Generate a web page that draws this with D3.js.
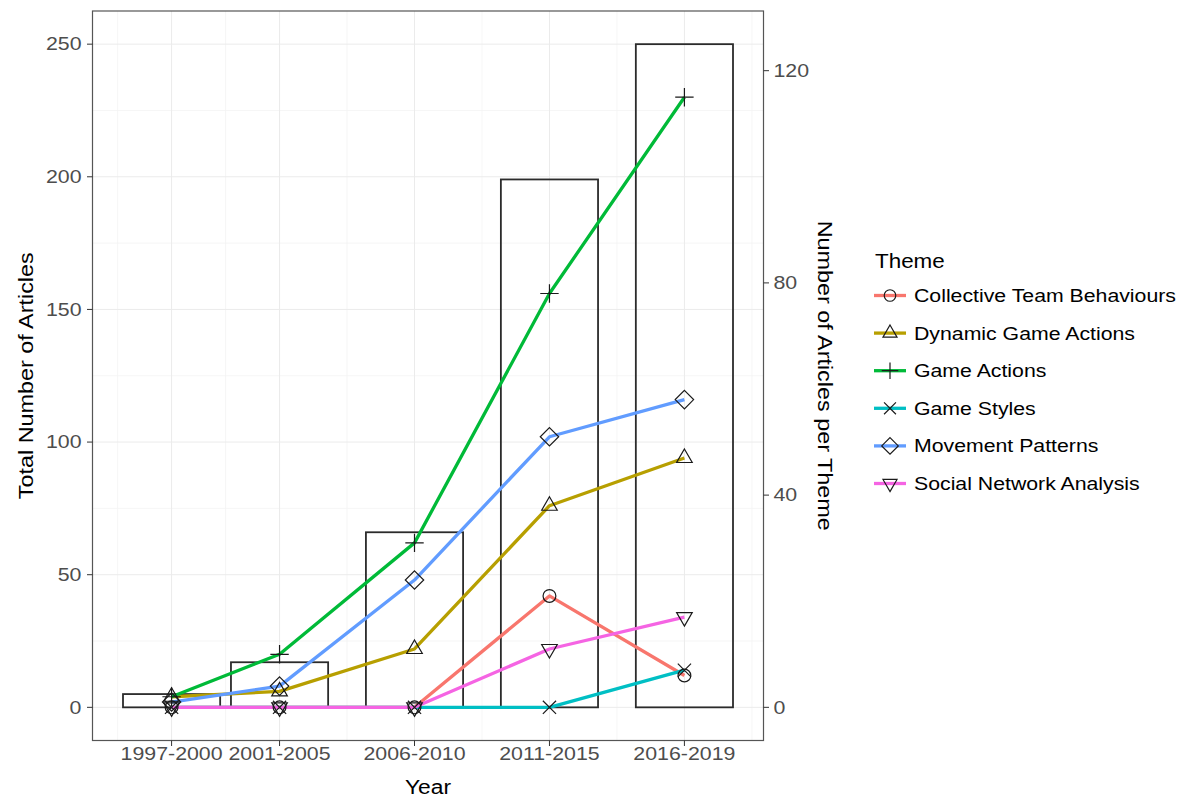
<!DOCTYPE html>
<html>
<head>
<meta charset="utf-8">
<script src="https://cdn.jsdelivr.net/npm/d3@7"></script>
<style>
  html, body { margin: 0; padding: 0; background: #fff; }
  svg { display: block; font-family: "Liberation Sans", Arial, sans-serif; }
</style>
</head>
<body>
<svg id="chart" width="1190" height="800"></svg>
<script>
// Publication periods and their first year (x is placed on a year scale)
const periods = ["1997-2000", "2001-2005", "2006-2010", "2011-2015", "2016-2019"];
const startYears = [1997, 2001, 2006, 2011, 2016];

// Total number of articles per period (left axis, bars)
const totalArticles = [5, 17, 66, 199, 250];

// Articles per theme (right axis)
const themeNames = [
  "Collective Team Behaviours",
  "Dynamic Game Actions",
  "Game Actions",
  "Game Styles",
  "Movement Patterns",
  "Social Network Analysis"
];
const collectiveTeamBehaviours = [0, 0, 0, 21, 6];
const dynamicGameActions = [2, 3, 11, 38, 47];
const gameActions = [2, 10, 31, 78, 115];
const gameStyles = [0, 0, 0, 0, 7];
const movementPatterns = [1, 4, 24, 51, 58];
const socialNetworkAnalysis = [0, 0, 0, 11, 17];

const themeColors = ["#F8766D", "#B79F00", "#00BA38", "#00BFC4", "#619CFF", "#F564E3"];
const themeShapes = ["circle", "triangle", "plus", "cross", "diamond", "triangleDown"];

const leftTicks = [0, 50, 100, 150, 200, 250];
const rightTicks = [0, 40, 80, 120];

const series = [
  collectiveTeamBehaviours, dynamicGameActions, gameActions,
  gameStyles, movementPatterns, socialNetworkAnalysis
].map((vals, i) => ({
  name: themeNames[i],
  color: themeColors[i],
  shape: themeShapes[i],
  values: vals.map((v, j) => ({ year: startYears[j], value: v }))
}));

// ---- layout ----
const svg = d3.select("#chart");
const panel = { left: 92.5, right: 763.5, top: 11, bottom: 740.5 };

const barWidthYears = 0.9 * d3.min(d3.pairs(startYears), p => p[1] - p[0]);
const xMin = d3.min(startYears) - barWidthYears / 2;
const xMax = d3.max(startYears) + barWidthYears / 2;
const xPad = (xMax - xMin) * 0.05;
const x = d3.scaleLinear().domain([xMin - xPad, xMax + xPad]).range([panel.left, panel.right]);

const yMaxData = d3.max(totalArticles);
const y = d3.scaleLinear().domain([-yMaxData * 0.05, yMaxData * 1.05]).range([panel.bottom, panel.top]);
// secondary axis: articles per theme = total / 2
const yRight = d3.scaleLinear().domain(y.domain().map(v => v / 2)).range([panel.bottom, panel.top]);

// text helper: horizontally widened sans text
function addText(parent, tx, ty, str, o) {
  const g = parent.append("g")
    .attr("transform", `translate(${tx},${ty}) rotate(${o.rotate || 0}) scale(${o.sx || 1.18},1)`);
  g.append("text")
    .attr("x", 0).attr("y", 0)
    .attr("text-anchor", o.anchor || "start")
    .attr("font-size", o.size)
    .attr("fill", o.color || "#000")
    .text(str);
  return g;
}

// marker shapes, open strokes
function shapePath(shape, s) {
  const p = d3.path();
  if (shape === "circle") {
    const r = 6.4 * s;
    p.moveTo(r, 0); p.arc(0, 0, r, 0, 2 * Math.PI);
  } else if (shape === "triangle" || shape === "triangleDown") {
    const xc = 7.8 * s, r = xc / 1.3468 * 1.5551, yc = r / 2;
    const f = shape === "triangle" ? 1 : -1;
    p.moveTo(0, -r * f); p.lineTo(xc, yc * f); p.lineTo(-xc, yc * f); p.closePath();
  } else if (shape === "plus") {
    const h = 9.2 * s;
    p.moveTo(-h, 0); p.lineTo(h, 0); p.moveTo(0, -h); p.lineTo(0, h);
  } else if (shape === "cross") {
    const h = 6.6 * s;
    p.moveTo(-h, -h); p.lineTo(h, h); p.moveTo(-h, h); p.lineTo(h, -h);
  } else if (shape === "diamond") {
    const h = 9.2 * s;
    p.moveTo(0, -h); p.lineTo(h, 0); p.lineTo(0, h); p.lineTo(-h, 0); p.closePath();
  }
  return p.toString();
}

// ---- grid ----
const grid = svg.append("g");
const xMinor = [];
const xs = startYears;
xMinor.push(xs[0] - (xs[1] - xs[0]) / 2);
d3.pairs(xs).forEach(p => xMinor.push((p[0] + p[1]) / 2));
xMinor.push(xs[xs.length - 1] + (xs[xs.length - 1] - xs[xs.length - 2]) / 2);
const yMinor = d3.pairs(leftTicks).map(p => (p[0] + p[1]) / 2).concat([leftTicks[0] - 25]);

grid.selectAll(".xminor").data(xMinor.filter(v => x(v) > panel.left && x(v) < panel.right)).join("line")
  .attr("x1", d => x(d)).attr("x2", d => x(d)).attr("y1", panel.top).attr("y2", panel.bottom)
  .attr("stroke", "#f4f4f4").attr("stroke-width", 0.8);
grid.selectAll(".yminor").data(yMinor.filter(v => y(v) < panel.bottom && y(v) > panel.top)).join("line")
  .attr("y1", d => y(d)).attr("y2", d => y(d)).attr("x1", panel.left).attr("x2", panel.right)
  .attr("stroke", "#f4f4f4").attr("stroke-width", 0.8);
grid.selectAll(".xmajor").data(startYears).join("line")
  .attr("x1", d => x(d)).attr("x2", d => x(d)).attr("y1", panel.top).attr("y2", panel.bottom)
  .attr("stroke", "#ebebeb").attr("stroke-width", 1);
grid.selectAll(".ymajor").data(leftTicks).join("line")
  .attr("y1", d => y(d)).attr("y2", d => y(d)).attr("x1", panel.left).attr("x2", panel.right)
  .attr("stroke", "#ebebeb").attr("stroke-width", 1);

// ---- bars (total articles) ----
svg.append("g").selectAll("rect").data(totalArticles).join("rect")
  .attr("x", (d, i) => x(startYears[i] - barWidthYears / 2))
  .attr("width", (d, i) => x(startYears[i] + barWidthYears / 2) - x(startYears[i] - barWidthYears / 2))
  .attr("y", d => y(d))
  .attr("height", d => y(0) - y(d))
  .attr("fill", "none")
  .attr("stroke", "#2b2b2b")
  .attr("stroke-width", 1.8);

// ---- theme lines ----
const line = d3.line().x(d => x(d.year)).y(d => yRight(d.value));
svg.append("g").selectAll("path").data(series).join("path")
  .attr("d", d => line(d.values))
  .attr("fill", "none")
  .attr("stroke", d => d.color)
  .attr("stroke-width", 3.3)
  .attr("stroke-linejoin", "round");

// ---- points ----
const pts = svg.append("g");
series.forEach(s => {
  pts.selectAll(null).data(s.values).join("path")
    .attr("transform", d => `translate(${x(d.year)},${yRight(d.value)})`)
    .attr("d", shapePath(s.shape, 1))
    .attr("fill", "none")
    .attr("stroke", "#1a1a1a")
    .attr("stroke-width", 1.2);
});

// ---- panel border ----
svg.append("rect")
  .attr("x", panel.left).attr("y", panel.top)
  .attr("width", panel.right - panel.left).attr("height", panel.bottom - panel.top)
  .attr("fill", "none").attr("stroke", "#555").attr("stroke-width", 1.2);

// ---- axes ----
const axisG = svg.append("g");
// left
leftTicks.forEach(t => {
  axisG.append("line").attr("x1", panel.left - 5.5).attr("x2", panel.left)
    .attr("y1", y(t)).attr("y2", y(t)).attr("stroke", "#333").attr("stroke-width", 1);
  addText(axisG, panel.left - 11, y(t) + 6.3, String(t), { anchor: "end", size: 17.5, color: "#4D4D4D", sx: 1.22 });
});
// right
rightTicks.forEach(t => {
  axisG.append("line").attr("x1", panel.right).attr("x2", panel.right + 5.5)
    .attr("y1", yRight(t)).attr("y2", yRight(t)).attr("stroke", "#333").attr("stroke-width", 1);
  addText(axisG, panel.right + 10, yRight(t) + 6.3, String(t), { anchor: "start", size: 17.5, color: "#4D4D4D", sx: 1.22 });
});
// bottom
startYears.forEach((yr, i) => {
  axisG.append("line").attr("x1", x(yr)).attr("x2", x(yr))
    .attr("y1", panel.bottom).attr("y2", panel.bottom + 5.5).attr("stroke", "#333").attr("stroke-width", 1);
  addText(axisG, x(yr), 760, periods[i], { anchor: "middle", size: 17.5, color: "#4D4D4D", sx: 1.22 });
});

// axis titles
addText(svg, (panel.left + panel.right) / 2, 794, "Year", { anchor: "middle", size: 19.5, sx: 1.17 });
addText(svg, 32.5, (panel.top + panel.bottom) / 2, "Total Number of Articles",
  { anchor: "middle", size: 20, sx: 1.17, rotate: -90 });
addText(svg, 818, (panel.top + panel.bottom) / 2, "Number of Articles per Theme",
  { anchor: "middle", size: 20, sx: 1.17, rotate: 90 });

// ---- legend ----
const legend = svg.append("g");
addText(legend, 875, 268, "Theme", { size: 19.5, sx: 1.15 });
series.forEach((s, i) => {
  const cy = 295.5 + i * 37.6;
  legend.append("line").attr("x1", 874).attr("x2", 906).attr("y1", cy).attr("y2", cy)
    .attr("stroke", s.color).attr("stroke-width", 3.3);
  legend.append("path").attr("transform", `translate(890,${cy})`)
    .attr("d", shapePath(s.shape, 0.9)).attr("fill", "none")
    .attr("stroke", "#1a1a1a").attr("stroke-width", 1.2);
  addText(legend, 914, cy + 6.5, s.name, { size: 18.5, sx: 1.15 });
});
</script>
</body>
</html>
